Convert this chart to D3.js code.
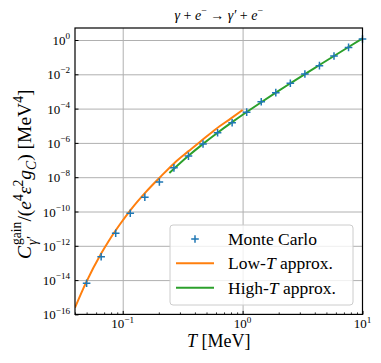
<!DOCTYPE html>
<html>
<head>
<meta charset="utf-8">
<script src="https://cdn.jsdelivr.net/npm/d3@7"></script>
<style>
  body { margin: 0; background: #fff; }
  svg { display: block; }
  text { white-space: pre; }
</style>
</head>
<body>
<div id="chart"></div>
<script>
// Monte Carlo points
const tMC = [0.05, 0.0661, 0.0874, 0.1156, 0.1529, 0.2022, 0.2674, 0.3536, 0.4676, 0.6184,
             0.8178, 1.0815, 1.4302, 1.8914, 2.5012, 3.3077, 4.3742, 5.7847, 7.6499, 10];
const cMC = [6.5e-15, 2.3e-13, 5.4e-12, 7.9e-11, 6.8e-10, 5.2e-9, 3.5e-8, 1.7e-7, 8.7e-7, 3.9e-6,
             1.5e-5, 6.2e-5, 2.5e-4, 8.5e-4, 3.0e-3, 1.05e-2, 3.2e-2, 0.117, 0.37, 1.15];

// low-T approximation
const tLow = [0.04, 0.0492, 0.0661, 0.0774, 0.0949, 0.117, 0.155, 0.205, 0.269, 0.352, 0.45, 0.60, 0.80, 1.0];
const cLow = [2.45e-16, 6.6e-15, 3.55e-13, 2.2e-12, 1.8e-11, 1.29e-10, 1.3e-9, 1.0e-8, 6.6e-8, 3.2e-7, 1.29e-6, 6.5e-6, 2.7e-5, 8.3e-5];

// high-T approximation
const tHigh = [0.245, 0.3536, 0.4676, 0.6184, 0.8178, 1.0815, 1.4302, 1.8914, 2.5012, 3.3077, 4.3742, 5.7847, 7.6499, 10];
const cHigh = [1.78e-8, 1.78e-7, 8.8e-7, 3.93e-6, 1.62e-5, 6.3e-5, 2.35e-4, 8.5e-4, 2.98e-3, 1.03e-2, 3.48e-2, 0.117, 0.39, 1.23];

// ticks
const xTicks = [0.1, 1, 10];
const xTickExp = ["\u22121", "0", "1"];
const yTicks = [1, 1e-2, 1e-4, 1e-6, 1e-8, 1e-10, 1e-12, 1e-14, 1e-16];
const yTickExp = ["0", "\u22122", "\u22124", "\u22126", "\u22128", "\u221210", "\u221212", "\u221214", "\u221216"];

const W = 381, H = 363;
const pL = 75, pR = 362.5, pT = 28, pB = 314.4;
const serif = "'Liberation Serif', 'DejaVu Serif', serif";

const svg = d3.select("#chart").append("svg")
    .attr("width", W).attr("height", H);

const x = d3.scaleLog().domain([0.04, 10]).range([pL, pR]);
const y = d3.scaleLog().domain([1e-16, Math.pow(10, 0.7)]).range([pB, pT]);

// petit moteur pour texte "math" : suite de morceaux mesurés un par un
function mathText(parent, parts, size) {
    const g = parent.append("g");
    let cx = 0;
    function piece(p, xpos) {
        const t = g.append("text")
            .attr("x", xpos)
            .attr("y", (p.dy || 0) * size)
            .style("font-family", serif)
            .style("font-size", (p.s || 1) * size + "px")
            .style("font-style", p.it ? "italic" : "normal")
            .attr("fill", "#000")
            .text(p.t);
        return t.node().getComputedTextLength() + (p.kern || 0) * size;
    }
    parts.forEach(p => {
        if (p.stack) {
            let w = 0;
            p.stack.forEach(q => { w = Math.max(w, piece(q, cx)); });
            cx += w;
        } else {
            cx += piece(p, cx);
        }
    });
    return { g: g, width: cx };
}

// clip
svg.append("clipPath").attr("id", "clip")
  .append("rect").attr("x", pL).attr("y", pT)
  .attr("width", pR - pL).attr("height", pB - pT);

// grille
svg.append("g")
    .attr("transform", `translate(0,${pB})`)
    .call(d3.axisBottom(x).tickValues([0.1, 1]).tickSize(-(pB - pT)).tickFormat(""))
    .call(g => g.select(".domain").remove())
    .selectAll("line").attr("stroke", "#b0b0b0").attr("stroke-width", 1);

svg.append("g")
    .attr("transform", `translate(${pL},0)`)
    .call(d3.axisLeft(y).tickValues(yTicks.slice(0, -1)).tickSize(-(pR - pL)).tickFormat(""))
    .call(g => g.select(".domain").remove())
    .selectAll("line").attr("stroke", "#b0b0b0").attr("stroke-width", 1);

const plot = svg.append("g").attr("clip-path", "url(#clip)");

const line = d3.line()
    .x(d => x(d[0]))
    .y(d => y(d[1]))
    .curve(d3.curveMonotoneX);

plot.append("path")
    .datum(d3.zip(tLow, cLow))
    .attr("fill", "none")
    .attr("stroke", "#ff7f0e")
    .attr("stroke-width", 2)
    .attr("d", line);

plot.append("path")
    .datum(d3.zip(tHigh, cHigh))
    .attr("fill", "none")
    .attr("stroke", "#2ca02c")
    .attr("stroke-width", 2)
    .attr("d", line);

const plus = "M-3.8,0H3.8M0,-3.8V3.8";
svg.append("g").selectAll("path")
    .data(d3.zip(tMC, cMC))
    .join("path")
    .attr("transform", d => `translate(${x(d[0])},${y(d[1])})`)
    .attr("d", plus)
    .attr("stroke", "#1f77b4")
    .attr("stroke-width", 1.5)
    .attr("fill", "none");

// axes (ticks vers l'intérieur)
const minorX = [];
[0.01, 0.1, 1].forEach(b => { for (let k = 2; k <= 9; k++) { const v = b * k; if (v >= 0.04 && v <= 10) minorX.push(v); } });

svg.append("g")
    .attr("transform", `translate(0,${pB})`)
    .call(d3.axisBottom(x).tickValues(minorX).tickSize(-2).tickFormat(""))
    .call(g => g.select(".domain").remove())
    .selectAll("line").attr("stroke", "#000").attr("stroke-width", 0.8);

svg.append("g")
    .attr("transform", `translate(0,${pB})`)
    .call(d3.axisBottom(x).tickValues(xTicks).tickSize(-3.5).tickFormat(""))
    .call(g => g.select(".domain").remove())
    .selectAll("line").attr("stroke", "#000").attr("stroke-width", 1);

svg.append("g")
    .attr("transform", `translate(${pL},0)`)
    .call(d3.axisLeft(y).tickValues(yTicks).tickSize(-3.5).tickFormat(""))
    .call(g => g.select(".domain").remove())
    .selectAll("line").attr("stroke", "#000").attr("stroke-width", 1);

svg.append("rect")
    .attr("x", pL).attr("y", pT)
    .attr("width", pR - pL).attr("height", pB - pT)
    .attr("fill", "none").attr("stroke", "#000").attr("stroke-width", 1.2);

// labels des ticks
xTicks.forEach((v, i) => {
    const m = mathText(svg, [{ t: "10" }, { t: xTickExp[i], s: 0.7, dy: -0.45 }], 13);
    m.g.attr("transform", `translate(${x(v) - m.width / 2},${pB + 14})`);
});
yTicks.forEach((v, i) => {
    const m = mathText(svg, [{ t: "10" }, { t: yTickExp[i], s: 0.7, dy: -0.45 }], 13);
    m.g.attr("transform", `translate(${pL - 5 - m.width},${y(v) + 5})`);
});

// titre
const title = mathText(svg, [
    { t: "\u03b3", it: true }, { t: " + " }, { t: "e", it: true }, { t: "\u2212", s: 0.7, dy: -0.4 },
    { t: " \u2192 " }, { t: "\u03b3\u2032", it: true }, { t: " + " }, { t: "e", it: true }, { t: "\u2212", s: 0.7, dy: -0.4 }
], 14);
title.g.attr("transform", `translate(${(pL + pR) / 2 - title.width / 2},20)`);

// label x
const xl = mathText(svg, [{ t: "T", it: true }, { t: " [MeV]" }], 18);
xl.g.attr("transform", `translate(${(pL + pR) / 2 - xl.width / 2},347)`);

// label y
const yl = mathText(svg, [
    { t: "C", it: true, kern: 0.04 },
    { stack: [{ t: "gain", s: 0.7, dy: -0.5 }, { t: "\u03b3\u2032", s: 0.7, dy: 0.3, it: true }] },
    { t: "/(" }, { t: "e", it: true }, { t: "4", s: 0.7, dy: -0.4 },
    { t: "\u03b5", it: true }, { t: "2", s: 0.7, dy: -0.4 },
    { t: "g", it: true }, { t: "C", s: 0.7, dy: 0.25, it: true },
    { t: ") [MeV" }, { t: "4", s: 0.7, dy: -0.4 }, { t: "]" }
], 19.5);
yl.g.attr("transform", `translate(31,${(pT + pB) / 2 + 3}) rotate(-90) translate(${-yl.width / 2},0)`);

// légende
const lg = svg.append("g");
lg.append("rect")
    .attr("x", 170).attr("y", 225).attr("width", 183).attr("height", 80)
    .attr("rx", 3)
    .attr("fill", "#fff").attr("fill-opacity", 0.8)
    .attr("stroke", "#cccccc").attr("stroke-width", 1);

const legendRows = [
    { y: 239, kind: "mc", parts: [{ t: "Monte Carlo" }] },
    { y: 263.3, kind: "#ff7f0e", parts: [{ t: "Low-" }, { t: "T", it: true }, { t: " approx." }] },
    { y: 287.7, kind: "#2ca02c", parts: [{ t: "High-" }, { t: "T", it: true }, { t: " approx." }] }
];
legendRows.forEach(r => {
    if (r.kind === "mc") {
        lg.append("path").attr("transform", `translate(195,${r.y})`).attr("d", plus)
          .attr("stroke", "#1f77b4").attr("stroke-width", 1.5);
    } else {
        lg.append("line").attr("x1", 176).attr("x2", 214).attr("y1", r.y).attr("y2", r.y)
          .attr("stroke", r.kind).attr("stroke-width", 2);
    }
    const m = mathText(lg, r.parts, 17.5);
    m.g.attr("transform", `translate(228,${r.y + 6})`);
});
</script>
</body>
</html>
